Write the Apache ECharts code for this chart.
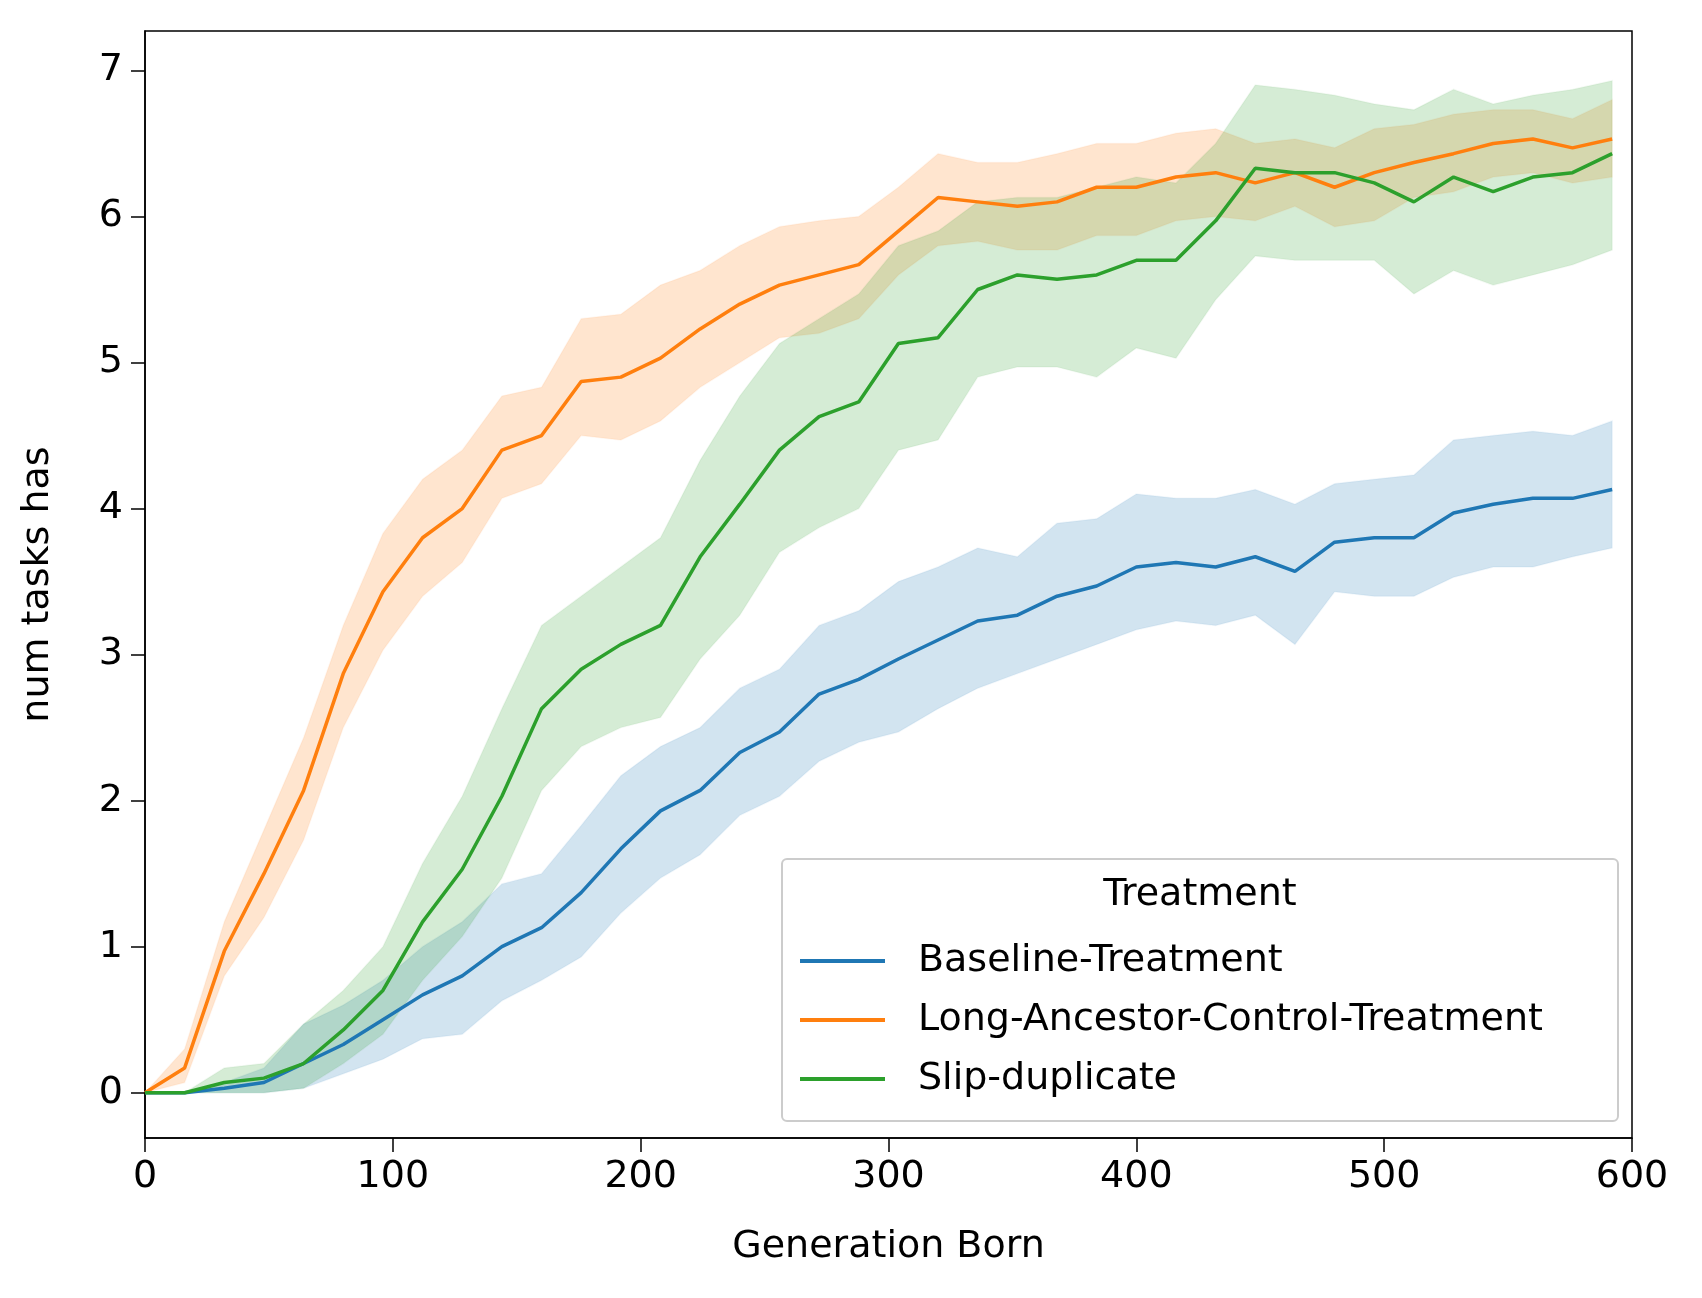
<!DOCTYPE html>
<html>
<head>
<meta charset="utf-8">
<script src="https://cdn.jsdelivr.net/npm/echarts@6/dist/echarts.min.js"></script>
<style>html,body{margin:0;background:#fff}#c{width:1702px;height:1298px}</style>
</head>
<body>
<div id="c"></div>
<script>
// 数据
const gens = [0,16,32,48,64,80,96,112,128,144,160,176,192,208,224,240,256,272,288,304,320,336,352,368,384,400,416,432,448,464,480,496,512,528,544,560,576,592];

const baseMean = [0,0,0.03,0.07,0.2,0.33,0.5,0.67,0.8,1.0,1.13,1.37,1.67,1.93,2.07,2.33,2.47,2.73,2.83,2.97,3.1,3.23,3.27,3.4,3.47,3.6,3.63,3.6,3.67,3.57,3.77,3.8,3.8,3.97,4.03,4.07,4.07,4.13];
const baseLow = [0,0,0,0,0.03,0.13,0.23,0.37,0.4,0.63,0.77,0.93,1.23,1.47,1.63,1.9,2.03,2.27,2.4,2.47,2.63,2.77,2.87,2.97,3.07,3.17,3.23,3.2,3.27,3.07,3.43,3.4,3.4,3.53,3.6,3.6,3.67,3.73];
const baseHigh = [0,0,0.07,0.17,0.47,0.6,0.77,1.0,1.17,1.43,1.5,1.83,2.17,2.37,2.5,2.77,2.9,3.2,3.3,3.5,3.6,3.73,3.67,3.9,3.93,4.1,4.07,4.07,4.13,4.03,4.17,4.2,4.23,4.47,4.5,4.53,4.5,4.6];

const longMean = [0,0.17,0.97,1.5,2.07,2.87,3.43,3.8,4.0,4.4,4.5,4.87,4.9,5.03,5.23,5.4,5.53,5.6,5.67,5.9,6.13,6.1,6.07,6.1,6.2,6.2,6.27,6.3,6.23,6.3,6.2,6.3,6.37,6.43,6.5,6.53,6.47,6.53];
const longLow = [0,0.07,0.8,1.2,1.73,2.5,3.03,3.4,3.63,4.07,4.17,4.5,4.47,4.6,4.83,5.0,5.17,5.2,5.3,5.6,5.8,5.83,5.77,5.77,5.87,5.87,5.97,6.0,5.97,6.07,5.93,5.97,6.13,6.17,6.27,6.3,6.23,6.27];
const longHigh = [0,0.3,1.17,1.8,2.43,3.2,3.83,4.2,4.4,4.77,4.83,5.3,5.33,5.53,5.63,5.8,5.93,5.97,6.0,6.2,6.43,6.37,6.37,6.43,6.5,6.5,6.57,6.6,6.5,6.53,6.47,6.6,6.63,6.7,6.73,6.73,6.67,6.8];

const slipMean = [0,0,0.07,0.1,0.2,0.43,0.7,1.17,1.53,2.03,2.63,2.9,3.07,3.2,3.67,4.03,4.4,4.63,4.73,5.13,5.17,5.5,5.6,5.57,5.6,5.7,5.7,5.97,6.33,6.3,6.3,6.23,6.1,6.27,6.17,6.27,6.3,6.43];
const slipLow = [0,0,0,0,0.03,0.2,0.4,0.77,1.07,1.47,2.07,2.37,2.5,2.57,2.97,3.27,3.7,3.87,4.0,4.4,4.47,4.9,4.97,4.97,4.9,5.1,5.03,5.43,5.73,5.7,5.7,5.7,5.47,5.63,5.53,5.6,5.67,5.77];
const slipHigh = [0,0,0.17,0.2,0.47,0.7,1.0,1.57,2.03,2.63,3.2,3.4,3.6,3.8,4.33,4.77,5.13,5.3,5.47,5.8,5.9,6.1,6.13,6.13,6.2,6.27,6.23,6.5,6.9,6.87,6.83,6.77,6.73,6.87,6.77,6.83,6.87,6.93];

const yTicks = [0,1,2,3,4,5,6,7];
const font = 'DejaVu Sans';
const fs = 38;

const treatments = [
    {name:'Baseline-Treatment', color:'#1f77b4', mean:baseMean, low:baseLow, high:baseHigh},
    {name:'Long-Ancestor-Control-Treatment', color:'#ff7f0e', mean:longMean, low:longLow, high:longHigh},
    {name:'Slip-duplicate', color:'#2ca02c', mean:slipMean, low:slipLow, high:slipHigh},
];

const pairs = arr => gens.map((g,i) => [g, arr[i]]);

// 置信带: 用custom系列画多边形
let series = [];
treatments.forEach(t => {
    series.push({
        type:'custom', silent:true, z:1,
        data:gens.map((g,i) => [g, t.low[i], t.high[i]]),
        encode:{x:0, y:[1,2]},
        renderItem:(params, api) => {
            if (params.dataIndex !== 0) return;
            const top = gens.map((g,i) => api.coord([g, t.high[i]]));
            const bot = gens.map((g,i) => api.coord([g, t.low[i]])).reverse();
            return {
                type:'polygon',
                shape:{points:top.concat(bot)},
                style:{fill:t.color, opacity:0.2, stroke:t.color, lineWidth:1.5, strokeOpacity:0.3}
            };
        }
    });
});
treatments.forEach(t => {
    series.push({
        name:t.name, type:'line', data:pairs(t.mean), symbol:'none',
        lineStyle:{color:t.color, width:3.5}, itemStyle:{color:t.color}, z:3
    });
});

let myChart = echarts.init(document.getElementById('c'));
myChart.setOption({
    animation:false,
    backgroundColor:'#fff',
    grid:{left:145, top:31, right:70, bottom:160, show:true, borderColor:'#000', borderWidth:1.5},
    xAxis:{
        type:'value', min:0, max:600, interval:100,
        name:'Generation Born', nameLocation:'middle', nameGap:90,
        nameTextStyle:{fontFamily:font, fontSize:fs, color:'#000'},
        axisLine:{onZero:false, lineStyle:{color:'#000', width:1.5}},
        axisTick:{length:14, lineStyle:{color:'#000', width:1.5}},
        axisLabel:{fontFamily:font, fontSize:fs, color:'#000', margin:20},
        splitLine:{show:false}
    },
    yAxis:{
        type:'value', min:-0.31, max:7.27,
        name:'num tasks has', nameLocation:'middle', nameGap:88,
        nameTextStyle:{fontFamily:font, fontSize:fs, color:'#000'},
        axisLine:{show:true, lineStyle:{color:'#000', width:1.5}},
        axisTick:{show:true, length:14, customValues:yTicks, lineStyle:{color:'#000', width:1.5}},
        axisLabel:{fontFamily:font, fontSize:fs, color:'#000', margin:22, customValues:yTicks},
        splitLine:{show:false}
    },
    legend:{
        data:treatments.map(t => t.name),
        orient:'vertical', left:795, top:937, itemGap:21, z:20,
        itemWidth:85, itemHeight:4, icon:'rect',
        textStyle:{fontFamily:font, fontSize:fs, color:'#000', padding:[0,0,0,28]}
    },
    graphic:[
        {type:'rect', left:781, top:858, shape:{width:836, height:262, r:5},
         style:{fill:'rgba(255,255,255,0.8)', stroke:'#ccc', lineWidth:2}, z:10},
        {type:'text', x:1200, y:895, style:{text:'Treatment', font:fs + 'px DejaVu Sans', fill:'#000', align:'center', verticalAlign:'middle'}, z:11}
    ],
    series
});
</script>
</body>
</html>
